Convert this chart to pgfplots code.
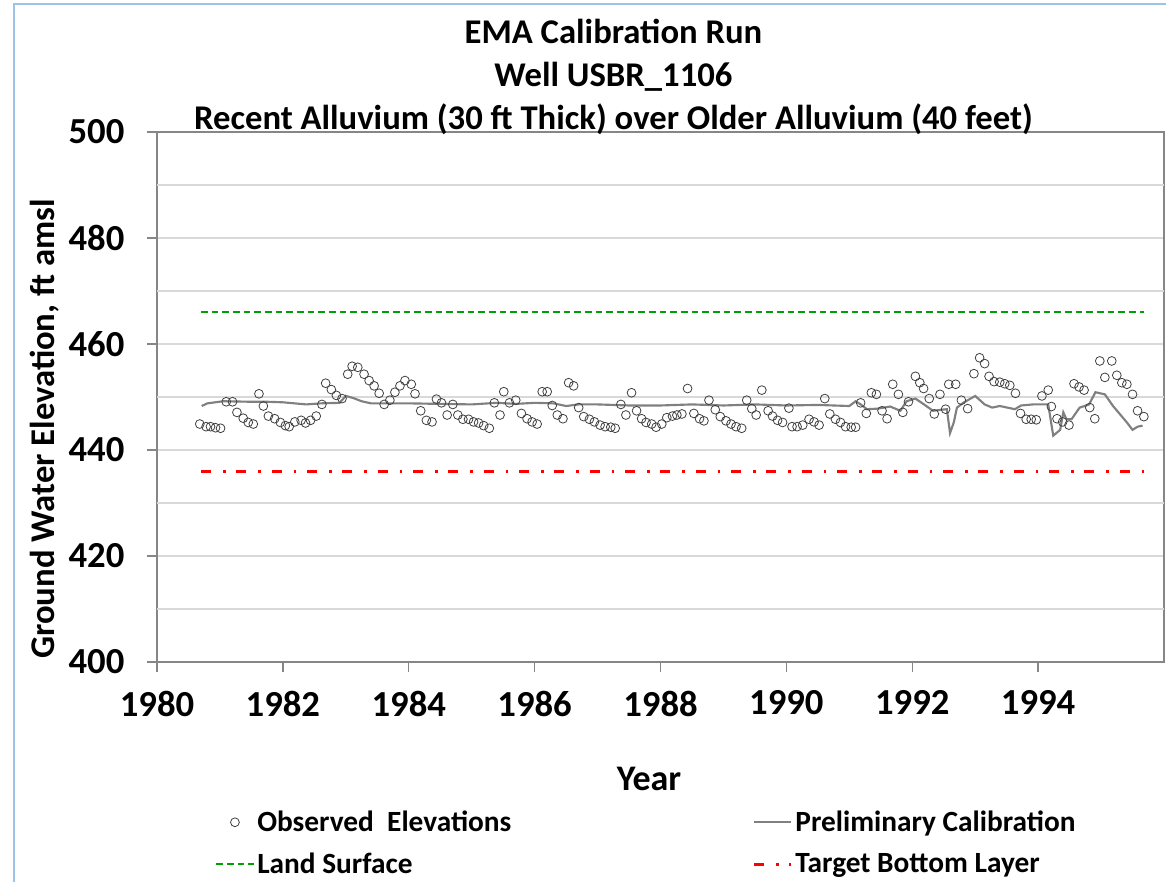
\documentclass[border=0pt]{standalone}
\usepackage{fontspec}
\setmainfont{Carlito}
\usepackage{pgfplots}
\pgfplotsset{compat=1.18}
\definecolor{gridgray}{RGB}{217,217,217}
\definecolor{axgray}{RGB}{134,134,134}
\definecolor{calgray}{RGB}{128,128,128}
\definecolor{obsgray}{RGB}{64,64,64}
\definecolor{lsgreen}{RGB}{0,160,0}
\definecolor{tbred}{RGB}{255,0,0}
\definecolor{frameblue}{RGB}{157,195,230}
\begin{document}
\begin{tikzpicture}
\useasboundingbox (0,0) rectangle (874.5pt,661.5pt);
\begin{axis}[
 at={(117.75pt,165pt)}, anchor=south west,
 scale only axis, width=755.25pt, height=397.5pt,
 xmin=1980, xmax=1996, ymin=400, ymax=500,
 xtick={1980,1982,...,1994}, minor x tick num=1,
 ytick={400,420,...,500},
 extra y ticks={410,430,450,470,490},
 extra y tick labels={},
 extra y tick style={major tick length=0pt, grid=major},
 ymajorgrids,
 grid style={gridgray, line width=1.1pt},
 axis line style={axgray, line width=1.5pt},
 tick style={axgray, line width=1pt},
 tick align=outside,
 major tick length=7.5pt,
 minor tick length=5.25pt,
 minor x tick style={yshift=5.25pt},
 xtick pos=bottom, ytick pos=left,
 ticklabel style={font=\fontsize{27.5}{32}\selectfont\bfseries},
 yticklabel style={xshift=-13.5pt},
 xticklabel style={yshift=-10.5pt},
 /pgf/number format/assume math mode=true,
 /pgf/number format/1000 sep={},
 legend columns=2,
 legend cell align=left,
 legend style={at={(0.0576,-0.2755)}, anchor=north west, draw=none, fill=none,
   font=\fontsize{22}{26}\selectfont\bfseries, inner sep=0pt, row sep=10.5pt,
   /tikz/every even column/.append style={column sep=179pt}},
 legend image code/.code={\draw[mark repeat=2,mark phase=2,#1] plot coordinates {(0pt,0pt) (14pt,0pt) (28pt,0pt)};},
]
\addplot[only marks, mark=o, mark size=3.3pt, mark options={draw=obsgray, line width=0.6pt}] table {
x y
1980.68 444.9
1980.78 444.4
1980.85 444.4
1980.93 444.2
1981.01 444.1
1981.10 449.1
1981.20 449.1
1981.27 447.1
1981.37 446.0
1981.45 445.2
1981.53 444.9
1981.62 450.6
1981.69 448.3
1981.77 446.4
1981.87 445.9
1981.96 445.2
1982.04 444.6
1982.10 444.4
1982.19 445.3
1982.29 445.6
1982.36 445.1
1982.44 445.6
1982.53 446.4
1982.62 448.6
1982.68 452.6
1982.77 451.4
1982.85 450.3
1982.94 449.7
1983.03 454.3
1983.10 455.8
1983.19 455.6
1983.29 454.3
1983.37 453.1
1983.45 452.1
1983.53 450.7
1983.61 448.6
1983.70 449.4
1983.78 450.9
1983.86 452.1
1983.94 453.1
1984.04 452.4
1984.10 450.6
1984.19 447.4
1984.28 445.6
1984.37 445.3
1984.44 449.6
1984.52 448.9
1984.61 446.6
1984.70 448.6
1984.78 446.6
1984.86 445.8
1984.95 445.8
1985.03 445.3
1985.11 445.1
1985.19 444.6
1985.28 444.1
1985.36 448.9
1985.45 446.6
1985.51 451.0
1985.60 448.9
1985.70 449.4
1985.79 446.9
1985.88 445.9
1985.96 445.3
1986.04 444.9
1986.12 451.0
1986.20 451.0
1986.28 448.4
1986.36 446.6
1986.45 445.9
1986.54 452.7
1986.62 452.1
1986.70 448.0
1986.78 446.3
1986.87 445.8
1986.95 445.3
1987.04 444.7
1987.12 444.4
1987.21 444.3
1987.28 444.1
1987.37 448.6
1987.45 446.6
1987.54 450.8
1987.62 447.4
1987.70 445.9
1987.77 445.2
1987.86 444.9
1987.93 444.3
1988.02 444.9
1988.10 446.1
1988.19 446.4
1988.26 446.6
1988.34 446.8
1988.43 451.6
1988.53 446.9
1988.62 445.9
1988.69 445.5
1988.77 449.4
1988.87 447.6
1988.95 446.3
1989.04 445.5
1989.12 444.9
1989.20 444.4
1989.29 444.1
1989.37 449.4
1989.45 447.8
1989.52 446.6
1989.61 451.3
1989.71 447.4
1989.78 446.4
1989.86 445.6
1989.94 445.2
1990.04 447.9
1990.09 444.4
1990.17 444.4
1990.26 444.7
1990.36 445.8
1990.44 445.3
1990.52 444.7
1990.61 449.7
1990.69 446.8
1990.78 445.8
1990.86 445.2
1990.94 444.4
1991.03 444.3
1991.10 444.3
1991.18 448.9
1991.27 446.9
1991.35 450.8
1991.43 450.5
1991.52 447.4
1991.60 445.9
1991.69 452.4
1991.78 450.5
1991.85 447.1
1991.94 449.1
1992.05 453.9
1992.12 452.7
1992.18 451.6
1992.27 449.7
1992.35 446.8
1992.44 450.5
1992.53 447.7
1992.58 452.4
1992.69 452.4
1992.78 449.4
1992.88 447.8
1992.98 454.4
1993.07 457.4
1993.15 456.3
1993.22 453.9
1993.30 452.9
1993.39 452.8
1993.47 452.5
1993.55 452.2
1993.64 450.7
1993.72 446.9
1993.81 445.8
1993.89 445.8
1993.97 445.7
1994.06 450.2
1994.16 451.3
1994.21 448.2
1994.30 445.9
1994.39 445.3
1994.49 444.7
1994.57 452.5
1994.65 451.9
1994.73 451.3
1994.82 448.0
1994.90 445.9
1994.98 456.8
1995.06 453.7
1995.17 456.8
1995.25 454.1
1995.33 452.7
1995.41 452.4
1995.50 450.5
1995.58 447.4
1995.68 446.3
};
\addlegendentry{Observed\ \ Elevations}
\addplot[calgray, line width=1.6pt] table {
x y
1980.71 448.3
1980.80 448.8
1981.05 449.2
1981.50 449.1
1981.75 449.1
1982.00 449.0
1982.37 448.6
1982.60 448.8
1982.90 448.9
1983.00 450.2
1983.12 449.8
1983.25 449.2
1983.40 448.8
1983.70 448.8
1984.00 448.8
1984.50 448.7
1985.00 448.6
1985.40 448.9
1985.70 448.7
1986.00 448.9
1986.30 448.8
1986.50 448.3
1986.70 448.6
1987.00 448.6
1987.50 448.4
1988.00 448.4
1988.50 448.6
1989.00 448.4
1989.50 448.6
1990.00 448.4
1990.50 448.5
1991.00 448.3
1991.10 449.2
1991.18 448.6
1991.28 447.7
1991.45 447.8
1991.65 448.2
1991.81 447.4
1991.91 449.2
1992.05 449.7
1992.15 448.9
1992.33 447.4
1992.47 447.6
1992.55 447.7
1992.60 443.2
1992.66 445.2
1992.71 448.0
1992.81 448.9
1993.00 450.2
1993.15 448.6
1993.27 448.0
1993.39 448.3
1993.63 447.7
1993.73 448.4
1993.92 448.6
1994.16 448.6
1994.24 442.7
1994.35 443.8
1994.40 447.1
1994.45 445.8
1994.53 445.8
1994.66 448.0
1994.81 448.6
1994.91 450.9
1995.06 450.5
1995.19 448.3
1995.41 445.2
1995.50 443.8
1995.58 444.4
1995.66 444.6
};
\addlegendentry{Preliminary Calibration}
\addplot[lsgreen, line width=1.5pt, dash pattern=on 5pt off 3pt] coordinates {(1980.7,466) (1995.68,466)};
\addlegendentry{Land Surface}
\addplot[tbred, line width=2pt, dash pattern=on 7.5pt off 9pt on 2pt off 8pt] coordinates {(1980.7,436) (1995.68,436)};
\addlegendentry{Target Bottom Layer}
\end{axis}
\node[font=\fontsize{26}{30}\selectfont\bfseries, anchor=base] at (460.1pt,628.5pt) {EMA Calibration Run};
\node[font=\fontsize{26}{30}\selectfont\bfseries, anchor=base] at (460.1pt,596.25pt) {Well USBR\_1106};
\node[font=\fontsize{26}{30}\selectfont\bfseries, anchor=base] at (460.1pt,564pt) {Recent Alluvium (30 ft Thick) over Older Alluvium (40 feet)};
\node[font=\fontsize{27}{32}\selectfont\bfseries, anchor=base] at (486.75pt,69pt) {Year};
\node[font=\fontsize{26}{30}\selectfont\bfseries, rotate=90] at (33.75pt,339.75pt) {Ground Water Elevation, ft amsl};
\draw[frameblue, line width=1.5pt] (10.5pt,0) -- (10.5pt,658.5pt) -- (874.5pt,658.5pt);
\end{tikzpicture}
\end{document}
